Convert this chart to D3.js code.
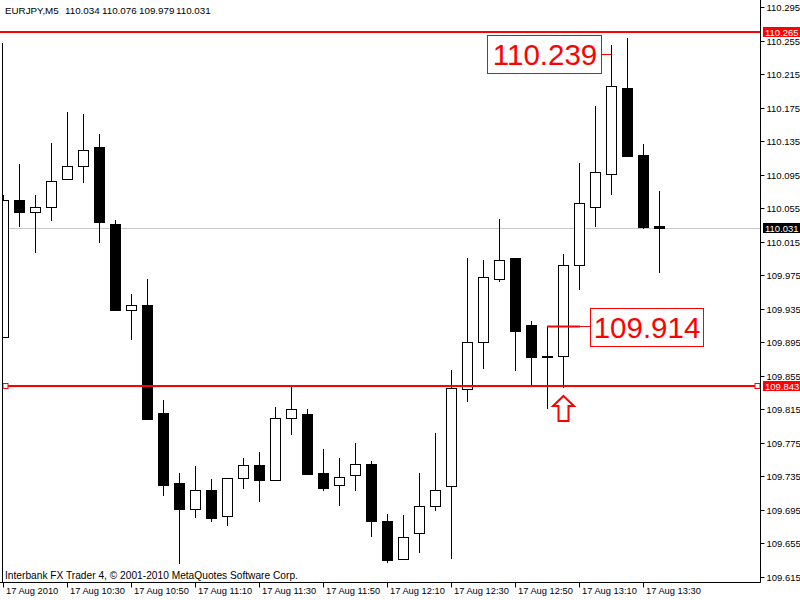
<!DOCTYPE html>
<html><head><meta charset="utf-8">
<script src="https://cdn.jsdelivr.net/npm/d3@7"></script>
<style>html,body{margin:0;padding:0;background:#fff;}svg{display:block;}</style>
</head><body>
<svg id="c" width="800" height="600"></svg>
<script>
const symbolTitle = "EURJPY,M5";
const lastOHLC = ["110.034", "110.076", "109.979", "110.031"];
const times = ["10:10","10:15","10:20","10:25","10:30","10:35","10:40","10:45","10:50","10:55",
  "11:00","11:05","11:10","11:15","11:20","11:25","11:30","11:35","11:40","11:45",
  "11:50","11:55","12:00","12:05","12:10","12:15","12:20","12:25","12:30","12:35",
  "12:40","12:45","12:50","12:55","13:00","13:05","13:10","13:15","13:20","13:25",
  "13:30","13:35"];
const open  = [109.901,110.065,110.050,110.057,110.090,110.106,110.128,110.036,109.934,109.940,
  109.811,109.727,109.696,109.719,109.688,109.733,109.748,109.731,109.805,109.809,
  109.739,109.724,109.736,109.749,109.681,109.636,109.667,109.699,109.723,109.839,
  109.895,109.970,109.996,109.916,109.878,109.878,109.987,110.057,110.096,110.199,
  110.119,110.034];
const high  = [110.071,110.108,110.071,110.133,110.170,110.168,110.144,110.041,109.953,109.971,
  109.826,109.739,109.747,109.732,109.733,109.757,109.764,109.818,109.843,109.815,
  109.768,109.757,109.775,109.753,109.690,109.689,109.739,109.787,109.862,109.996,
  109.993,110.042,109.996,109.920,109.914,110.000,110.109,110.177,110.250,110.258,
  110.132,110.076];
const low   = [109.901,110.034,110.003,110.041,110.090,110.086,110.015,109.934,109.899,109.803,
  109.713,109.631,109.686,109.682,109.677,109.721,109.705,109.731,109.785,109.738,
  109.719,109.701,109.719,109.664,109.633,109.636,109.645,109.695,109.637,109.825,
  109.864,109.968,109.862,109.844,109.817,109.841,109.958,110.034,110.072,110.117,
  110.031,109.979];
const close = [110.065,110.050,110.056,110.088,110.106,110.125,110.039,109.934,109.939,109.803,
  109.725,109.696,109.719,109.685,109.733,109.748,109.730,109.804,109.815,109.738,
  109.721,109.734,109.749,109.682,109.635,109.663,109.699,109.718,109.840,109.895,
  109.973,109.993,109.908,109.877,109.877,109.987,110.061,110.098,110.201,110.117,
  110.033,110.031];
const priceTicks = [110.295,110.255,110.215,110.175,110.135,110.095,110.055,110.015,109.975,
  109.935,109.895,109.855,109.815,109.775,109.735,109.695,109.655,109.615];
const timeTickIdx = [0,4,8,12,16,20,24,28,32,36,40];
const timeTickLabels = ["17 Aug 2010","17 Aug 10:30","17 Aug 10:50","17 Aug 11:10","17 Aug 11:30",
  "17 Aug 11:50","17 Aug 12:10","17 Aug 12:30","17 Aug 12:50","17 Aug 13:10","17 Aug 13:30"];
const hLines = [110.265, 109.843];
const bidPrice = 110.031;
const annotations = [{text:"110.239", price:110.239, bar:38}, {text:"109.914", price:109.914, bar:34}];
const arrowBar = 35;
const copyright = "Interbank FX Trader 4, \u00A9 2001-2010 MetaQuotes Software Corp.";

const svg = d3.select("#c");
const font = "'Liberation Sans', Arial, sans-serif";
const plotL = 2.5, plotR = 760.5, plotT = 0, plotB = 582.5;

const y = d3.scaleLinear().domain([109.615, 110.295]).range([576.7, 7.3]);
const x = d3.scaleLinear().domain([0, 41]).range([3.3, 659.3]);
const px = v => Math.round(x(v)) + 0.5;
const py = v => Math.round(y(v)) + 0.5;

svg.append("defs").append("clipPath").attr("id","plot")
  .append("rect").attr("x",plotL+0.5).attr("y",plotT).attr("width",plotR-plotL-0.5).attr("height",plotB-plotT);

// bid line
svg.append("line").attr("x1",plotL).attr("x2",plotR).attr("y1",py(bidPrice)).attr("y2",py(bidPrice))
  .attr("stroke","#c8c8c8").attr("stroke-width",1);

// candles
const data = open.map((o,i)=>({i, t:times[i], o, h:high[i], l:low[i], c:close[i]}));
const cg = svg.append("g").attr("clip-path","url(#plot)");
const cs = cg.selectAll("g.c").data(data).join("g").attr("class","c");
cs.append("line")
  .attr("x1",d=>px(d.i)).attr("x2",d=>px(d.i))
  .attr("y1",d=>Math.round(y(d.h))).attr("y2",d=>Math.round(y(d.l))+1)
  .attr("stroke","#000").attr("stroke-width",1);
cs.append("rect")
  .attr("x",d=>px(d.i)-5).attr("width",10)
  .attr("y",d=>py(Math.max(d.o,d.c)))
  .attr("height",d=>Math.max(1, Math.round(y(Math.min(d.o,d.c))) - Math.round(y(Math.max(d.o,d.c)))))
  .attr("fill",d=>d.c>=d.o?"#fff":"#000")
  .attr("stroke","#000").attr("stroke-width",1);

// horizontal lines
hLines.forEach((p,k)=>{
  svg.append("line").attr("x1",k?plotL:0).attr("x2",plotR).attr("y1",Math.round(y(p))).attr("y2",Math.round(y(p)))
    .attr("stroke","#ff0000").attr("stroke-width",2);
});
// handles on second line
[5.5, 757.5].forEach(hx=>{
  svg.append("rect").attr("x",hx-2.5).attr("y",Math.round(y(hLines[1]))-2.5).attr("width",5).attr("height",5)
    .attr("fill","#fff").attr("stroke","#ff0000").attr("stroke-width",1);
});

// frame
svg.append("line").attr("x1",plotR).attr("x2",plotR).attr("y1",0).attr("y2",plotB).attr("stroke","#000");
svg.append("line").attr("x1",0).attr("x2",plotR).attr("y1",plotB).attr("y2",plotB).attr("stroke","#000");
svg.append("line").attr("x1",plotL).attr("x2",plotL).attr("y1",43).attr("y2",plotB).attr("stroke","#000");

// right price axis
const yAxis = d3.axisRight(y).tickValues(priceTicks).tickFormat(d3.format(".3f")).tickSize(4).tickPadding(2);
const ga = svg.append("g").attr("transform",`translate(${plotR},0)`).call(yAxis);
ga.select(".domain").remove();
ga.selectAll(".tick line").attr("stroke","#000");
ga.selectAll(".tick text").attr("font-family",font).attr("font-size","9.5px").attr("fill","#000");
ga.selectAll(".tick").attr("transform",d=>`translate(0,${py(d)})`);

// price labels on axis
function axisLabel(p, bg){
  const yy = Math.round(y(p));
  svg.append("rect").attr("x",763).attr("y",yy-5).attr("width",37).attr("height",10).attr("fill",bg);
  svg.append("text").attr("x",765).attr("y",yy+3.5).attr("font-family",font).attr("font-size","9.5px")
    .attr("fill","#fff").text(d3.format(".3f")(p));
}
axisLabel(hLines[0], "#ff0000");
axisLabel(bidPrice, "#000");
axisLabel(hLines[1], "#ff0000");

// time axis
const xAxis = d3.axisBottom(x).tickValues(timeTickIdx).tickFormat((d,i)=>timeTickLabels[i]).tickSize(5).tickPadding(0);
const gx = svg.append("g").attr("transform",`translate(0,${plotB})`).call(xAxis);
gx.select(".domain").remove();
gx.selectAll(".tick").attr("transform",d=>`translate(${Math.round(x(d))+0.5},0)`);
gx.selectAll(".tick line").attr("stroke","#000");
gx.selectAll(".tick text").attr("font-family",font).attr("font-size","9.3px").attr("fill","#000")
  .attr("text-anchor","start").attr("x",2.5).attr("y",4.5).attr("dy","0.71em");

// header & footer
const hdr = svg.append("text").attr("y",14).attr("font-family",font).attr("font-size","9.8px").attr("fill","#000");
const hdrX = [5, 65, 102, 139, 176];
[symbolTitle].concat(lastOHLC).forEach((s,i)=>hdr.append("tspan").attr("x",hdrX[i]).text(s));
svg.append("text").attr("x",5).attr("y",579).attr("font-family",font).attr("font-size","10.2px").text(copyright);

// annotations
const ann = [
  {box:[487.5,35.5,114,38], tx:545, lead:[[602,611]], tw:1},
  {box:[590.5,308.5,113,38], tx:647, lead:[[547,580],[580,590]], tw:2}
];
annotations.forEach((a,k)=>{
  const cfg = ann[k];
  const yy = Math.round(y(a.price));
  cfg.lead.forEach((seg,j)=>{
    svg.append("line").attr("x1",seg[0]).attr("x2",seg[1]).attr("y1",yy+0.5).attr("y2",yy+0.5)
      .attr("stroke","#ff0000").attr("stroke-width", j===0 ? cfg.tw : 1);
  });
  svg.append("rect").attr("x",cfg.box[0]).attr("y",cfg.box[1]).attr("width",cfg.box[2]).attr("height",cfg.box[3])
    .attr("fill","#fff").attr("stroke","#ff0000").attr("stroke-width",1);
  svg.append("text").attr("x",cfg.tx).attr("y",cfg.box[1]+29).attr("text-anchor","middle")
    .attr("font-family",font).attr("font-size","29.5px").attr("fill","#ff0000").text(a.text);
});
// arrow under the bar
const ax = Math.round(x(arrowBar))+0.5, at = Math.round(y(low[arrowBar]))+9;
svg.append("path")
  .attr("d",`M${ax},${at} L${ax+10.5},${at+10} L${ax+5},${at+10} L${ax+5},${at+25} L${ax-5},${at+25} L${ax-5},${at+10} L${ax-10.5},${at+10} Z`)
  .attr("fill","#fff").attr("stroke","#ff0000").attr("stroke-width",2);
</script>
</body></html>
